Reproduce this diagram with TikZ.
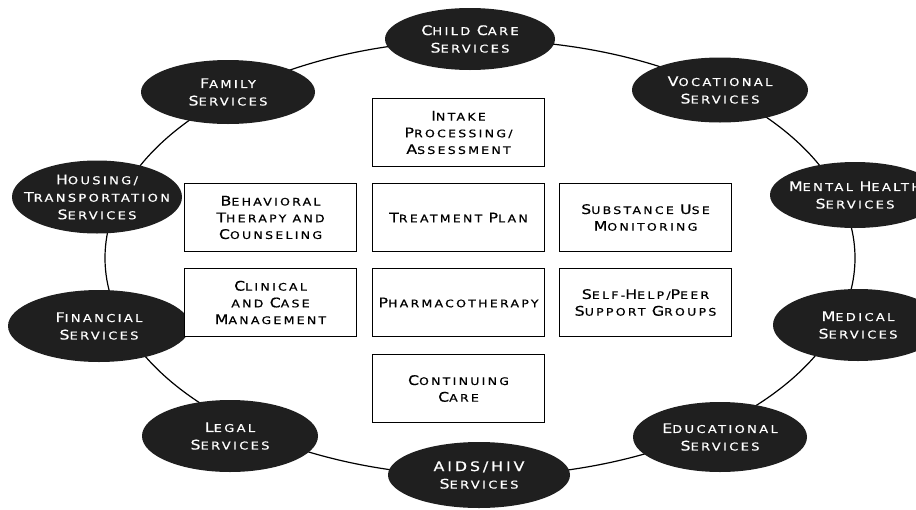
\documentclass[tikz,border=0pt]{standalone}
\usepackage{fontspec}
\setmainfont{DejaVu Sans}[FakeStretch=1.2,LetterSpace=22,FakeBold=0.6]
\usepackage{tikz}
\usetikzlibrary{calc, arrows, shapes.geometric}
\newcommand\ini[1]{{\fontsize{13.2}{12}\selectfont #1}}
\tikzstyle{int}=[draw, line width=1.5pt, fill=white, minimum width=172pt, minimum height=68pt, align=center, inner sep=0pt, font=\fontsize{10.4}{16.7}\selectfont]
\tikzstyle{svc}=[ellipse, fill=black!88, text=white, minimum width=174pt, minimum height=68pt, align=center, inner xsep=-30pt, inner ysep=-8pt, font=\fontsize{10.8}{17.5}\selectfont]

\begin{document}
\begin{tikzpicture}[x=1pt,y=-1pt,node distance=85pt]
  \useasboundingbox (0,0) rectangle (916,509);
  \clip (0,0) rectangle (916,509);

  % ring of services
  \coordinate (ring) at (480,258);
  \draw[line width=1.2pt] (ring) ellipse [x radius=375, y radius=218];

  \node [svc, minimum width=170pt, minimum height=62pt] (child) at (470,39) {\ini{C}HILD \ini{C}ARE\\\ini{S}ERVICES};
  \node [svc, minimum height=64pt] (family) at (228,92) {\ini{F}AMILY\\\ini{S}ERVICES};
  \node [svc, minimum width=176pt, minimum height=65pt] (voc) at (720,90) {\ini{V}OCATIONAL\\\ini{S}ERVICES};
  \node [svc, minimum width=170pt, minimum height=73pt] (housing) at (97,197) {\ini{H}OUSING/\\\ini{T}RANSPORTATION\\\ini{S}ERVICES};
  \node [svc, minimum width=170pt, minimum height=66pt] (mental) at (855,195) {\ini{M}ENTAL \ini{H}EALTH\\\ini{S}ERVICES};
  \node [svc, minimum width=182pt, minimum height=72pt] (financial) at (99,326) {\ini{F}INANCIAL\\\ini{S}ERVICES};
  \node [svc, minimum width=170pt, minimum height=72pt] (medical) at (858,325) {\ini{M}EDICAL\\\ini{S}ERVICES};
  \node [svc, minimum width=176pt, minimum height=72pt] (legal) at (230,436) {\ini{L}EGAL\\\ini{S}ERVICES};
  \node [svc, minimum height=70pt] (edu) at (720,437) {\ini{E}DUCATIONAL\\\ini{S}ERVICES};
  \node [svc, minimum width=182pt, minimum height=66pt] (aids) at (479,475) {\ini{AIDS/HIV}\\\ini{S}ERVICES};

  % treatment components
  \node [int] (treat) at (458.5,217.5) {\ini{T}REATMENT \ini{P}LAN};
  \node [int] (intake) [above of=treat] {\ini{I}NTAKE\\\ini{P}ROCESSING/\\\ini{A}SSESSMENT};
  \node [int] (behav) [left of=treat, node distance=188pt] {\ini{B}EHAVIORAL\\\ini{T}HERAPY AND\\\ini{C}OUNSELING};
  \node [int] (subst) [right of=treat, node distance=187pt] {\ini{S}UBSTANCE \ini{U}SE\\\ini{M}ONITORING};
  \node [int] (pharm) [below of=treat] {\ini{P}HARMACOTHERAPY};
  \node [int] (clin) [left of=pharm, node distance=188pt] {\ini{C}LINICAL\\AND \ini{C}ASE\\\ini{M}ANAGEMENT};
  \node [int] (self) [right of=pharm, node distance=187pt] {\ini{S}ELF-\ini{H}ELP/\ini{P}EER\\\ini{S}UPPORT \ini{G}ROUPS};
  \node [int] (cont) [below of=pharm, node distance=86pt] {\ini{C}ONTINUING\\\ini{C}ARE};
\end{tikzpicture}
\end{document}
